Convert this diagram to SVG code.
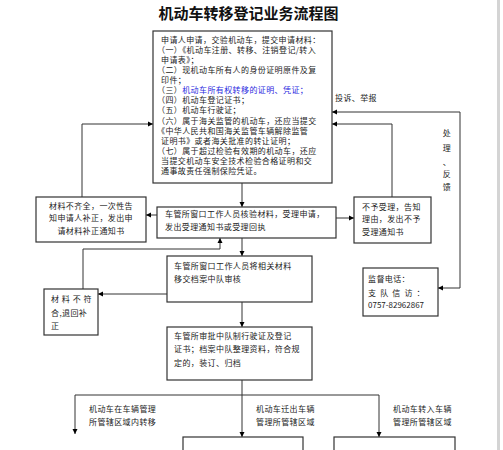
<svg xmlns="http://www.w3.org/2000/svg" width="503" height="450" viewBox="0 0 503 450">
<defs>
<marker id="ah" markerWidth="6" markerHeight="6" refX="5" refY="3" orient="auto" markerUnits="userSpaceOnUse">
<path d="M0,0.5 L5,3 L0,5.5 Z" fill="#000"/>
</marker>
<style>
.box{fill:#fff;stroke:#333;stroke-width:1.2}
.t{font-family:"Noto Sans CJK SC","Liberation Sans",sans-serif;font-size:8px;letter-spacing:0.4px;fill:#222}
.b{fill:#2a2ae0}
.ln{fill:none;stroke:#333;stroke-width:1}
.ar{fill:none;stroke:#333;stroke-width:1;marker-end:url(#ah)}
.c{text-anchor:middle}
</style>
</defs>
<rect width="503" height="450" fill="#fff"/>
<rect x="497" y="0" width="3" height="450" fill="#d4d4d4"/>
<text x="248.5" y="19" text-anchor="middle" style="font-family:'Noto Sans CJK SC',sans-serif;font-size:15px;font-weight:bold;fill:#111">机动车转移登记业务流程图</text>

<g id="connectors">
<path class="ar" d="M242,183 V207"/>
<path class="ar" d="M336,218 H354"/>
<path class="ar" d="M157,215 H146"/>
<path class="ar" d="M82,197 V124 H153"/>
<path class="ar" d="M83,289 V249 H220 V238"/>
<path class="ar" d="M242,238 V256"/>
<path class="ar" d="M167,294 H98"/>
<path class="ar" d="M242,302 V327"/>
<path class="ar" d="M392,197 V124 H332"/>
<path class="ar" d="M460,288 V112 H332"/>
<path class="ar" d="M460,288 H438"/>
<path class="ln" d="M242,380 V395"/>
<path class="ln" d="M75,395 H379"/>
<path class="ar" d="M75,395 V434"/>
<path class="ar" d="M242,395 V437"/>
<path class="ar" d="M379,395 V437"/>
</g>

<g id="n-apply">
<rect class="box" x="153" y="31" width="179" height="152"/>
<text class="t" x="161" y="43">申请人申请，交验机动车，提交申请材料：</text>
<text class="t" x="157" y="53">（一）《机动车注册、转移、注销登记/转入</text>
<text class="t" x="161" y="63">申请表》；</text>
<text class="t" x="157" y="73">（二）现机动车所有人的身份证明原件及复</text>
<text class="t" x="161" y="83">印件；</text>
<text class="t" x="157" y="93">（三）<tspan class="b">机动车所有权转移的证明、凭证；</tspan></text>
<text class="t" x="157" y="103">（四）机动车登记证书；</text>
<text class="t" x="157" y="113">（五）机动车行驶证；</text>
<text class="t" x="157" y="124">（六）属于海关监管的机动车，还应当提交</text>
<text class="t" x="157" y="134">《中华人民共和国海关监管车辆解除监管</text>
<text class="t" x="161" y="144">证明书》或者海关批准的转让证明；</text>
<text class="t" x="157" y="154">（七）属于超过检验有效期的机动车，还应</text>
<text class="t" x="161" y="164">当提交机动车安全技术检验合格证明和交</text>
<text class="t" x="161" y="174">通事故责任强制保险凭证。</text>
</g>

<g id="n-complaint-label">
<text class="t" x="335" y="101">投诉、举报</text>
<text class="t c" x="447" y="136">处</text>
<text class="t c" x="447" y="151">理</text>
<text class="t c" x="447" y="165">、</text>
<text class="t c" x="447" y="177">反</text>
<text class="t c" x="447" y="190">馈</text>
</g>

<g id="n-check">
<rect class="box" x="157" y="207" width="179" height="31"/>
<text class="t" x="165" y="217">车管所窗口工作人员核验材料，受理申请，</text>
<text class="t" x="165" y="230">发出受理通知书或受理回执</text>
</g>

<g id="n-reject">
<rect class="box" x="354" y="197" width="77" height="46"/>
<text class="t" x="362" y="210">不予受理，告知</text>
<text class="t" x="362" y="222">理由，发出不予</text>
<text class="t" x="362" y="235">受理通知书</text>
</g>

<g id="n-incomplete">
<rect class="box" x="36" y="197" width="110" height="45"/>
<text class="t c" x="91" y="209">材料不齐全，一次性告</text>
<text class="t c" x="91" y="221">知申请人补正，发出申</text>
<text class="t c" x="91" y="234">请材料补正通知书</text>
</g>

<g id="n-supervise">
<rect class="box" x="363" y="268" width="75" height="48"/>
<text class="t" x="368" y="282">监督电话：</text>
<text class="t" x="368" y="296" textLength="57">支队信访：</text>
<text class="t" x="368" y="308" style="font-size:8px;letter-spacing:0">0757-82962867</text>
</g>

<g id="n-archive">
<rect class="box" x="167" y="256" width="145" height="46"/>
<text class="t" x="174" y="269">车管所窗口工作人员将相关材料</text>
<text class="t" x="174" y="282">移交档案中队审核</text>
</g>

<g id="n-nonconform">
<rect class="box" x="44" y="289" width="54" height="46"/>
<text class="t" x="51" y="302" textLength="41">材料不符</text>
<text class="t" x="51" y="316">合,退回补</text>
<text class="t" x="51" y="329">正</text>
</g>

<g id="n-issue">
<rect class="box" x="167" y="327" width="145" height="53"/>
<text class="t" x="174" y="339">车管所审批中队制行驶证及登记</text>
<text class="t" x="174" y="352">证书；档案中队整理资料，符合规</text>
<text class="t" x="174" y="366">定的，装订、归档</text>
</g>

<g id="n-branch-labels">
<text class="t" x="89" y="412">机动车在车辆管理</text>
<text class="t" x="89" y="425">所管辖区域内转移</text>
<text class="t" x="256" y="412">机动车迁出车辆</text>
<text class="t" x="256" y="425">管理所管辖区域</text>
<text class="t" x="393" y="412">机动车转入车辆</text>
<text class="t" x="393" y="425">管理所管辖区域</text>
</g>

<g id="n-out">
<rect class="box" x="183" y="437" width="120" height="20"/>
</g>
<g id="n-in">
<rect class="box" x="334" y="437" width="121" height="20"/>
</g>
</svg>
